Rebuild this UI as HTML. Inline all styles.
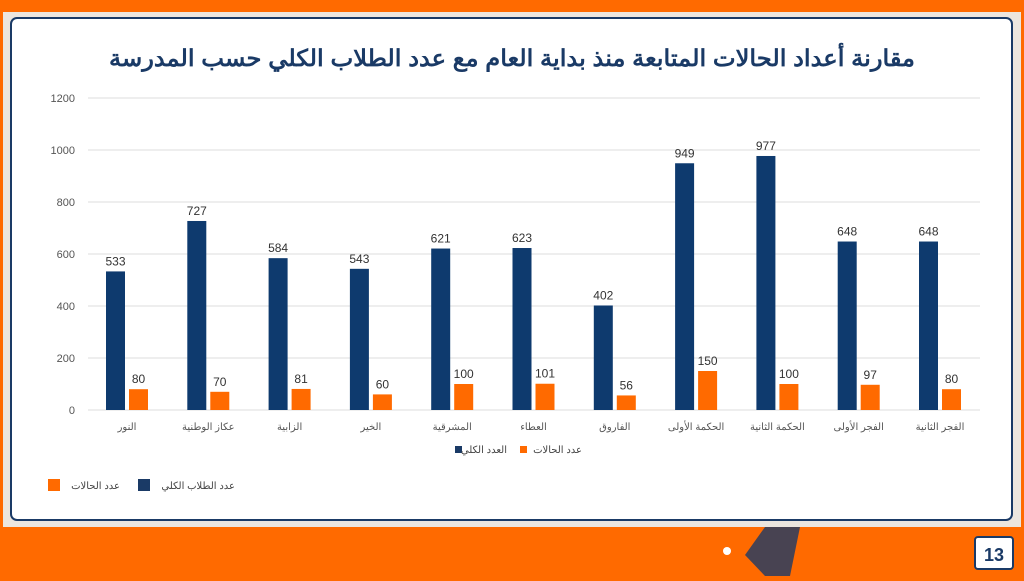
<!DOCTYPE html>
<html><head><meta charset="utf-8"><style>
body{margin:0;width:1024px;height:576px;overflow:hidden;background:#ff6a00;font-family:"Liberation Sans","Noto Sans CJK SC",sans-serif}
</style></head><body>
<svg width="1024" height="576" xmlns="http://www.w3.org/2000/svg" font-family="Liberation Sans, Noto Sans CJK SC, sans-serif">
<rect x="0" y="0" width="1024" height="576" fill="#ff6a00"/>
<rect x="3" y="12" width="1018" height="515" fill="#ece6df"/>
<rect x="11" y="18" width="1001" height="502" rx="6" fill="#fff" stroke="#1a3a66" stroke-width="2"/>
<text x="512" y="66" text-anchor="middle" font-size="23" font-weight="bold" fill="#1a3a66" textLength="806" lengthAdjust="spacingAndGlyphs">مقارنة أعداد الحالات المتابعة منذ بداية العام مع عدد الطلاب الكلي حسب المدرسة</text>
<g font-size="11" fill="#555" text-anchor="end">
<g stroke="#dcdcdc" stroke-width="1">
<line x1="88" x2="980" y1="98" y2="98"/><line x1="88" x2="980" y1="150" y2="150"/><line x1="88" x2="980" y1="202" y2="202"/><line x1="88" x2="980" y1="254" y2="254"/><line x1="88" x2="980" y1="306" y2="306"/><line x1="88" x2="980" y1="358" y2="358"/><line x1="88" x2="980" y1="410" y2="410"/>
</g>
<text x="75" y="102">1200</text><text x="75" y="154">1000</text><text x="75" y="206">800</text><text x="75" y="258">600</text><text x="75" y="310">400</text><text x="75" y="362">200</text><text x="75" y="414">0</text>
</g>
<g id="bars" font-size="12" fill="#333" text-anchor="middle"></g>
<g font-size="10" fill="#444" text-anchor="end">
<rect x="455" y="446" width="7" height="7" fill="#1a3a66"/><text x="507" y="453">العدد الكلي</text>
<rect x="520" y="446" width="7" height="7" fill="#ff6a00"/><text x="582" y="453">عدد الحالات</text>
<rect x="48" y="479" width="12" height="12" fill="#ff6a00"/><text x="120" y="489">عدد الحالات</text>
<rect x="138" y="479" width="12" height="12" fill="#1a3a66"/><text x="235" y="489">عدد الطلاب الكلي</text>
</g>
<rect x="975" y="537" width="38" height="32" rx="3" fill="#fff" stroke="#1a3a66" stroke-width="2"/>
<text x="994" y="561" text-anchor="middle" font-size="18" font-weight="bold" fill="#1a3a66">13</text>
<path d="M765 527 L800 527 L790 576 L765 576 L745 555Z" fill="#1a3a66" opacity="0.8"/>
<circle cx="727" cy="551" r="4" fill="#fff"/>
</svg>
<script>
var tot=[533,727,584,543,621,623,402,949,977,648,648],cas=[80,70,81,60,100,101,56,150,100,97,80];
var names=["النور","عكاز الوطنية","الزابية","الخير","المشرقية","العطاء","الفاروق","الحكمة الأولى","الحكمة الثانية","الفجر الأولى","الفجر الثانية"];
var g=document.getElementById('bars'),s='';
for(var i=0;i<11;i++){var c=127+81.3*i;var h1=tot[i]*0.26,h2=cas[i]*0.26;
s+='<rect x="'+(c-21)+'" y="'+(410-h1)+'" width="19" height="'+h1+'" fill="#0e3a6e"/>';
s+='<rect x="'+(c+2)+'" y="'+(410-h2)+'" width="19" height="'+h2+'" fill="#ff6a00"/>';
s+='<text x="'+(c-11.5)+'" y="'+(410-h1-6)+'">'+tot[i]+'</text>';
s+='<text x="'+(c+11.5)+'" y="'+(410-h2-6)+'">'+cas[i]+'</text>';
s+='<text x="'+c+'" y="430" font-size="10" fill="#555">'+names[i]+'</text>';}
g.innerHTML=s;
</script>
</body></html>
